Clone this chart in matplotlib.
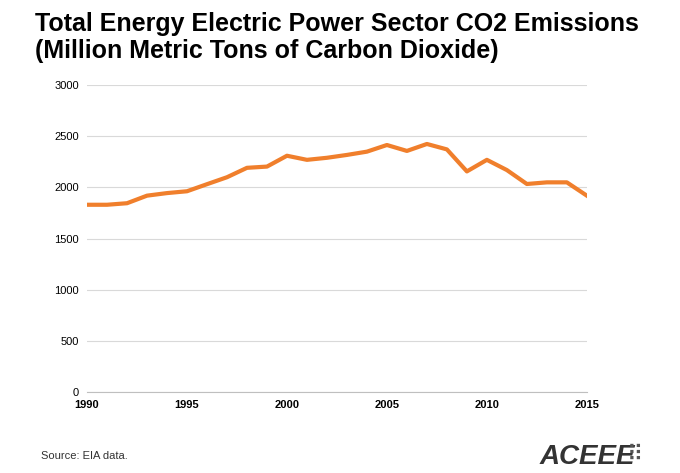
import matplotlib.pyplot as plt

years = list(range(1990, 2016))
emissions = [1831, 1831, 1846, 1920, 1945, 1963, 2032, 2100, 2192, 2204,
             2310, 2270, 2290, 2318, 2350, 2415, 2357, 2425, 2372, 2157,
             2270, 2170, 2034, 2050, 2050, 1920]
x_ticks = [1990, 1995, 2000, 2005, 2010, 2015]
y_ticks = [0, 500, 1000, 1500, 2000, 2500, 3000]

plt.rcParams['font.family'] = ['Liberation Sans', 'DejaVu Sans']

fig = plt.figure(figsize=(6.8, 4.73), dpi=100)
ax = fig.add_axes([0.128, 0.171, 0.735, 0.649])

ax.plot(years, emissions, color='#f07f2c', linewidth=3)

ax.set_xlim(1990, 2015)
ax.set_ylim(0, 3000)
ax.set_xticks(x_ticks)
ax.set_yticks(y_ticks)
ax.set_xticklabels([str(t) for t in x_ticks], fontweight='bold', fontsize=8)
ax.set_yticklabels([str(t) for t in y_ticks], fontsize=8)
ax.grid(axis='y', color='#d9d9d9', linewidth=0.8)
ax.set_axisbelow(True)
for s in ['top', 'right', 'left']:
    ax.spines[s].set_visible(False)
ax.spines['bottom'].set_color('#bfbfbf')
ax.tick_params(axis='both', length=0, pad=6)

fig.text(0.051, 0.975, 'Total Energy Electric Power Sector CO2 Emissions\n(Million Metric Tons of Carbon Dioxide)',
         fontsize=18, fontweight='bold', va='top', ha='left', linespacing=1.15)
fig.text(0.06, 0.03, 'Source: EIA data.', fontsize=8, color='#333333')
fig.text(0.793, 0.02, 'ACEEE', fontsize=20, fontweight='bold', style='italic', color='#333333')
fig.text(0.922, 0.025, '⠿', fontsize=16, color='#555555', family='DejaVu Sans')

plt.savefig('out.png', dpi=100)
